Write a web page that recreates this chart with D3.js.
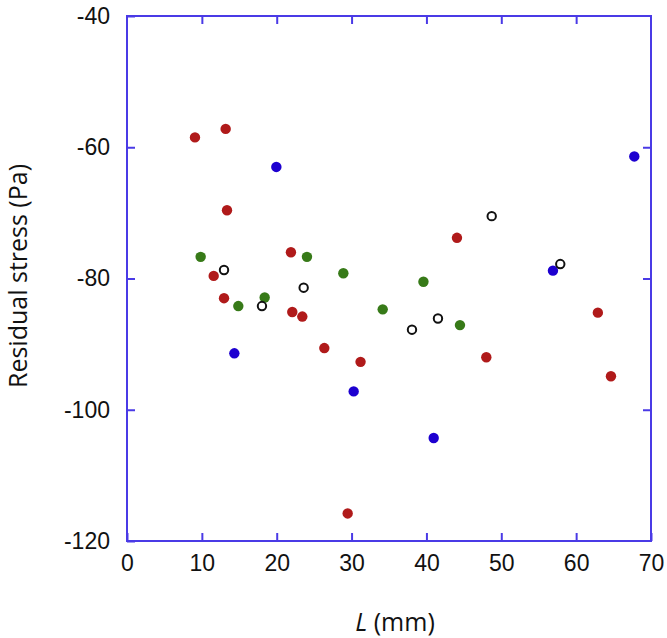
<!DOCTYPE html>
<html><head><meta charset="utf-8">
<script src="https://cdn.jsdelivr.net/npm/d3@7"></script>
<style>body{margin:0;background:#fff}</style>
</head><body><svg id="c" width="667" height="638"></svg>
<script>
const xTicks = [0,10,20,30,40,50,60,70];
const yTicks = [-40,-60,-80,-100,-120];
const redL = [9.08,13.18,13.36,21.9,11.58,12.96,22.08,23.42,26.36,31.2,48.0,44.08,62.9,64.65,29.48];
const redS = [-58.5,-57.2,-69.6,-76.0,-79.6,-83.0,-85.1,-85.8,-90.6,-92.7,-92.0,-73.8,-85.2,-94.9,-115.8];
const blueL = [19.95,14.34,30.28,40.97,67.77,56.9];
const blueS = [-63.0,-91.4,-97.2,-104.3,-61.4,-78.8];
const greenL = [9.84,24.04,28.9,14.87,18.39,34.16,39.6,44.48];
const greenS = [-76.7,-76.7,-79.2,-84.2,-82.9,-84.7,-80.5,-87.1];
const openL = [12.96,23.6,18.03,41.54,38.07,48.72,57.88];
const openS = [-78.7,-81.4,-84.2,-86.1,-87.8,-70.5,-77.8];

const svg = d3.select("#c");
const L = 127, R = 651, T = 16, B = 541;
const x = d3.scaleLinear().domain([0,70]).range([L,R]);
const y = d3.scaleLinear().domain([-120,-40]).range([B,T]);
const axisCol = "#4a3ae6";
const tickFont = "'Liberation Sans', Arial, sans-serif";
const fmt = d => String(d);

function styleAxis(g){
  g.select(".domain").remove();
  g.selectAll(".tick line").attr("stroke", axisCol).attr("stroke-width", 2);
}
// bottom
svg.append("g").attr("transform",`translate(0,${B})`)
  .call(d3.axisBottom(x).tickValues(xTicks).tickFormat(fmt).tickSizeInner(-8).tickSizeOuter(0).tickPadding(14))
  .call(styleAxis)
  .call(g=>g.selectAll("text").attr("font-family",tickFont).attr("font-size",23).attr("fill","#111"));
// top
svg.append("g").attr("transform",`translate(0,${T})`)
  .call(d3.axisTop(x).tickValues(xTicks.slice(1,-1)).tickSizeInner(-8).tickSizeOuter(0).tickFormat(""))
  .call(styleAxis);
// left
svg.append("g").attr("transform",`translate(${L},0)`)
  .call(d3.axisLeft(y).tickValues(yTicks).tickFormat(fmt).tickSizeInner(-8).tickSizeOuter(0).tickPadding(17))
  .call(styleAxis)
  .call(g=>g.selectAll("text").attr("font-family",tickFont).attr("font-size",23).attr("fill","#111"));
// right
svg.append("g").attr("transform",`translate(${R},0)`)
  .call(d3.axisRight(y).tickValues(yTicks.slice(1,-1)).tickSizeInner(-8).tickSizeOuter(0).tickFormat(""))
  .call(styleAxis);
// frame
svg.append("rect").attr("x",L).attr("y",T).attr("width",R-L).attr("height",B-T)
  .attr("fill","none").attr("stroke",axisCol).attr("stroke-width",2);

function dots(Ls, Ss, fill, stroke){
  svg.append("g").selectAll("circle").data(Ls.map((l,i)=>[l,Ss[i]])).join("circle")
    .attr("cx",d=>x(d[0])).attr("cy",d=>y(d[1]))
    .attr("r", stroke ? 4.2 : 5.2)
    .attr("fill", fill).attr("stroke", stroke || "none").attr("stroke-width", stroke ? 2 : 0);
}
dots(greenL, greenS, "#377a18");
dots(redL, redS, "#b01a1a");
dots(blueL, blueS, "#1d00d0");
dots(openL, openS, "#fff", "#111");

// axis titles
svg.append("text").attr("x",395).attr("y",631).attr("text-anchor","middle")
  .attr("font-family","'Open Sans', sans-serif").attr("font-size",25).attr("fill","#111")
  .html('<tspan font-style="italic">L</tspan> (mm)');
svg.append("text").attr("transform","translate(27,276) rotate(-90)").attr("text-anchor","middle")
  .attr("font-family","'Open Sans', sans-serif").attr("font-size",25).attr("fill","#111")
  .text("Residual stress (Pa)");
</script></body></html>
